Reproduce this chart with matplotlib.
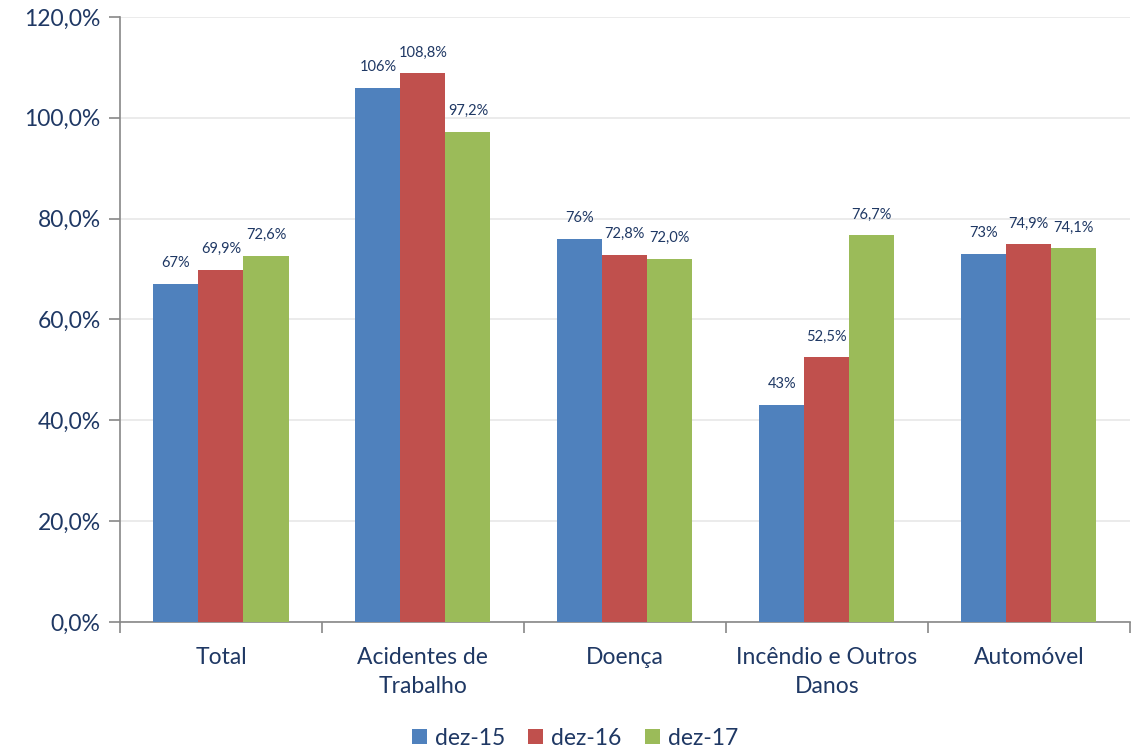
import matplotlib
matplotlib.use("Agg")
import matplotlib.pyplot as plt
import numpy as np
from matplotlib.ticker import FuncFormatter, FixedLocator

plt.rcParams['font.family'] = ['Lato', 'DejaVu Sans']

categories = ["Total", "Acidentes de\nTrabalho", "Doença", "Incêndio e Outros\nDanos", "Automóvel"]
series_names = ["dez-15", "dez-16", "dez-17"]
dez15 = [67, 106, 76, 43, 73]
dez16 = [69.9, 108.8, 72.8, 52.5, 74.9]
dez17 = [72.6, 97.2, 72.0, 76.7, 74.1]
label_decimals = [0, 1, 1]
colors = ["#4F81BD", "#C0504D", "#9BBB59"]
text_color = "#1F3864"

fig = plt.figure(figsize=(11.32, 7.47), dpi=100)
ax = fig.add_axes([0.106, 0.1673, 0.892, 0.81])

x = np.arange(len(categories))
width = 0.223
for i, (vals, name, col, dec) in enumerate(zip([dez15, dez16, dez17], series_names, colors, label_decimals)):
    pos = x + (i - 1) * width
    ax.bar(pos, vals, width, color=col, label=name, zorder=3)
    for px, v in zip(pos, vals):
        ax.annotate(f"{v:.{dec}f}%".replace('.', ','), (px, v), xytext=(0, 10),
                    textcoords="offset points", ha="center", va="bottom",
                    fontsize=10.5, color=text_color)

ax.set_xlim(-0.5, len(categories) - 0.5)
ax.set_ylim(0, 120)
ax.set_yticks(np.arange(0, 121, 20))
ax.yaxis.set_major_formatter(FuncFormatter(lambda v, p: f"{v:.1f}%".replace('.', ',')))
ax.grid(axis='y', color="#E8E8E8", linewidth=1.2, zorder=0)

ax.set_xticks(x)
ax.set_xticklabels(categories, fontsize=16.5, color=text_color, linespacing=1.45)
ax.tick_params(axis='x', which='major', length=0, pad=18)
ax.xaxis.set_minor_locator(FixedLocator(np.arange(-0.5, len(categories), 1.0)))
ax.tick_params(axis='x', which='minor', length=8, color="#888888", width=1.2, direction='out')
ax.tick_params(axis='y', labelsize=16.5, labelcolor=text_color, length=8, color="#888888", width=1.2, pad=6)

for s in ['top', 'right']:
    ax.spines[s].set_visible(False)
for s in ['left', 'bottom']:
    ax.spines[s].set_color("#888888")
    ax.spines[s].set_linewidth(1.2)

leg = fig.legend(loc="lower center", bbox_to_anchor=(0.508, -0.03), ncol=3, frameon=False,
                 fontsize=16.5, handlelength=0.65, handleheight=0.65, handletextpad=0.35, columnspacing=1.0)
for t in leg.get_texts():
    t.set_color(text_color)

fig.savefig("out.png", dpi=100)
